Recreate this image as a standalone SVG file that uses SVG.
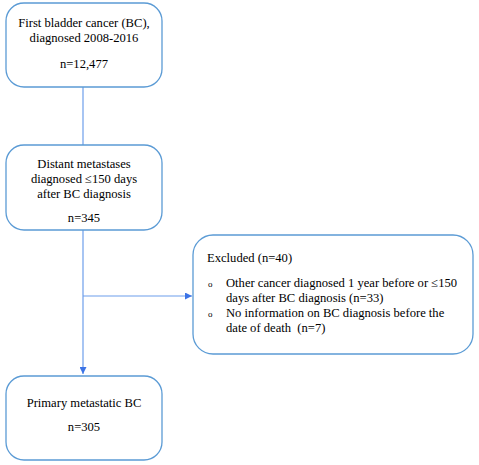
<svg xmlns="http://www.w3.org/2000/svg" width="479" height="465" viewBox="0 0 479 465">
<defs>
<style>
.box{fill:#fff;stroke:#5b9bd5;stroke-width:1.3}
.t{font-family:"Liberation Serif","Times New Roman",serif;font-size:12.6px;fill:#000}
.c{text-anchor:middle}
.b{font-size:9px}
.ln{stroke:#6d9eeb;stroke-width:1.2;fill:none}
</style>
<marker id="ah" viewBox="0 0 10 10" refX="10" refY="5" markerWidth="7" markerHeight="7" orient="auto" markerUnits="userSpaceOnUse">
<path d="M0,0 L10,5 L0,10 z" fill="#3b73e6"/>
</marker>
</defs>
<rect width="479" height="465" fill="#fff"/>
<g id="connectors">
<line class="ln" x1="83" y1="87" x2="83" y2="145"/>
<line class="ln" x1="83" y1="230" x2="83" y2="374" marker-end="url(#ah)"/>
<line class="ln" x1="83" y1="296" x2="192" y2="296" marker-end="url(#ah)"/>
</g>
<g id="n1">
<rect class="box" x="6" y="3" width="156" height="84" rx="18"/>
<text class="t c" x="84" y="27">First bladder cancer (BC),</text>
<text class="t c" x="84" y="42">diagnosed 2008-2016</text>
<text class="t c" x="84" y="68">n=12,477</text>
</g>
<g id="n2">
<rect class="box" x="6" y="145" width="156" height="85" rx="18"/>
<text class="t c" x="84" y="168">Distant metastases</text>
<text class="t c" x="84" y="183">diagnosed ≤150 days</text>
<text class="t c" x="84" y="198">after BC diagnosis</text>
<text class="t c" x="84" y="222">n=345</text>
</g>
<g id="n3">
<rect class="box" x="193" y="235" width="280" height="119" rx="20"/>
<text class="t" x="207" y="262">Excluded (n=40)</text>
<text class="t b" x="208" y="287">o</text>
<text class="t" x="226" y="287">Other cancer diagnosed 1 year before or ≤150</text>
<text class="t" x="226" y="302">days after BC diagnosis (n=33)</text>
<text class="t b" x="208" y="317">o</text>
<text class="t" x="226" y="317">No information on BC diagnosis before the</text>
<text class="t" x="226" y="332" xml:space="preserve">date of death  (n=7)</text>
</g>
<g id="n4">
<rect class="box" x="6" y="376" width="156" height="84" rx="18"/>
<text class="t c" x="84" y="407">Primary metastatic BC</text>
<text class="t c" x="84" y="431">n=305</text>
</g>
</svg>
